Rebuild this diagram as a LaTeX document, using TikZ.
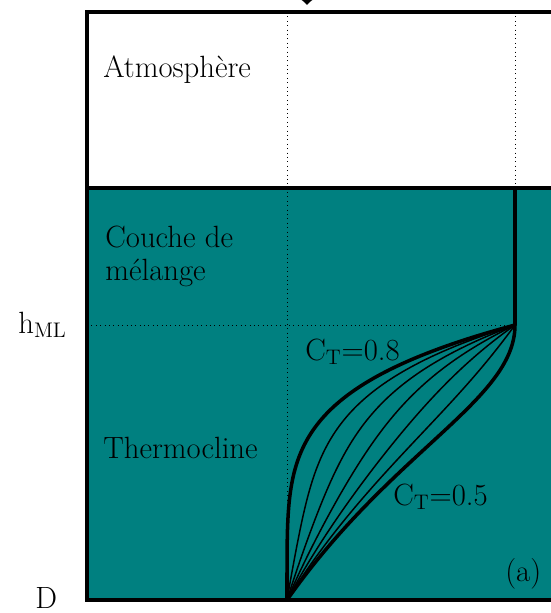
\documentclass[tikz,border=0pt]{standalone}
\usepackage{tikz}
\usetikzlibrary{arrows.meta}
\definecolor{lakewater}{RGB}{0,128,128}

\begin{document}
\begin{tikzpicture}[x=0.02cm, y=-0.02cm,
	lbl/.style={inner sep=0pt, font=\fontsize{17.5}{18.5}\selectfont},
	frame/.style={line width=2pt},
	guide/.style={dotted, line width=0.5pt},
	profile/.style={line width=0.85pt},
	bound/.style={line width=2pt},
	declare function={
		zl(\t)=3*(1-\t)*(1-\t)*\t*0.273+3*(1-\t)*\t*\t*0.4545+\t*\t*\t;
		pl(\t)=3*(1-\t)*\t*\t*0.539+\t*\t*\t;
		pu(\t)=1-(1-\t)*(1-\t)*(1-\t)*(1-\t)*sqrt(1-\t);
	}]
	\useasboundingbox (0,0) rectangle (551,613);
	\clip (0,0) rectangle (551,613);
	% Points:
	\coordinate (tl) at (87,12);
	\coordinate (tr) at (560,12);
	\coordinate (wl) at (87,188);
	\coordinate (wr) at (560,188);
	\coordinate (bl) at (87,600);
	\coordinate (br) at (560,600);
	\coordinate (gtop) at (287,12);
	\coordinate (mtop) at (515,12);
	\coordinate (msurf) at (515,188);
	\coordinate (mbase) at (515,325);
	\coordinate (mleft) at (87,325);
	\coordinate (bot) at (287,600);
	% Water and frame:
	\fill[lakewater] (wl) rectangle (br);
	\draw[guide] (gtop) -- (bot);
	\draw[guide] (mtop) -- (msurf);
	\draw[guide] (mleft) -- (mbase);
	\draw[frame] (tr) -- (tl) -- (bl) -- (br);
	\draw[frame] (wl) -- (wr);
	\draw[bound] (msurf) -- (mbase);
	\coordinate (arrtop) at (307,-40);
	\coordinate (arrtip) at (307,5);
	\draw[line width=2pt, -{Latex[length=4pt, width=10pt]}] (arrtop) -- (arrtip);
	% Temperature profiles:
	\foreach \k in {1,...,5}{
		\draw[profile] plot[variable=\t, domain=0:1, samples=100]
			({515-228*((1-\k/6)*pl(\t)+\k/6*pu(\t))}, {325+275*((1-\k/6)*zl(\t)+\k/6*\t)});
	}
	\draw[bound] plot[variable=\t, domain=0:1, samples=100] ({515-228*pl(\t)}, {325+275*zl(\t)});
	\draw[bound] plot[variable=\t, domain=0:1, samples=100] ({515-228*pu(\t)}, {325+275*\t});
	% Labels:
	\node[lbl, anchor=base west] (atm) at (103,77) {Atmosphère};
	\node[lbl, anchor=base west, align=left] (mix) at (105,280) {Couche de\\mélange};
	\node[lbl, anchor=base west] (thermo) at (103,458) {Thermocline};
	\node[lbl, anchor=base west] (ctup) at (305,360) {C$_{\mathrm{T}}$=0.8};
	\node[lbl, anchor=base west] (ctlow) at (393,505) {C$_{\mathrm{T}}$=0.5};
	\node[lbl, anchor=base west] (tag) at (505,581) {(a)};
	\node[lbl, anchor=base west] (hml) at (18,333) {h$_{\mathrm{ML}}$};
	\node[lbl, anchor=base west] (depth) at (35,608) {D};
\end{tikzpicture}
\end{document}
